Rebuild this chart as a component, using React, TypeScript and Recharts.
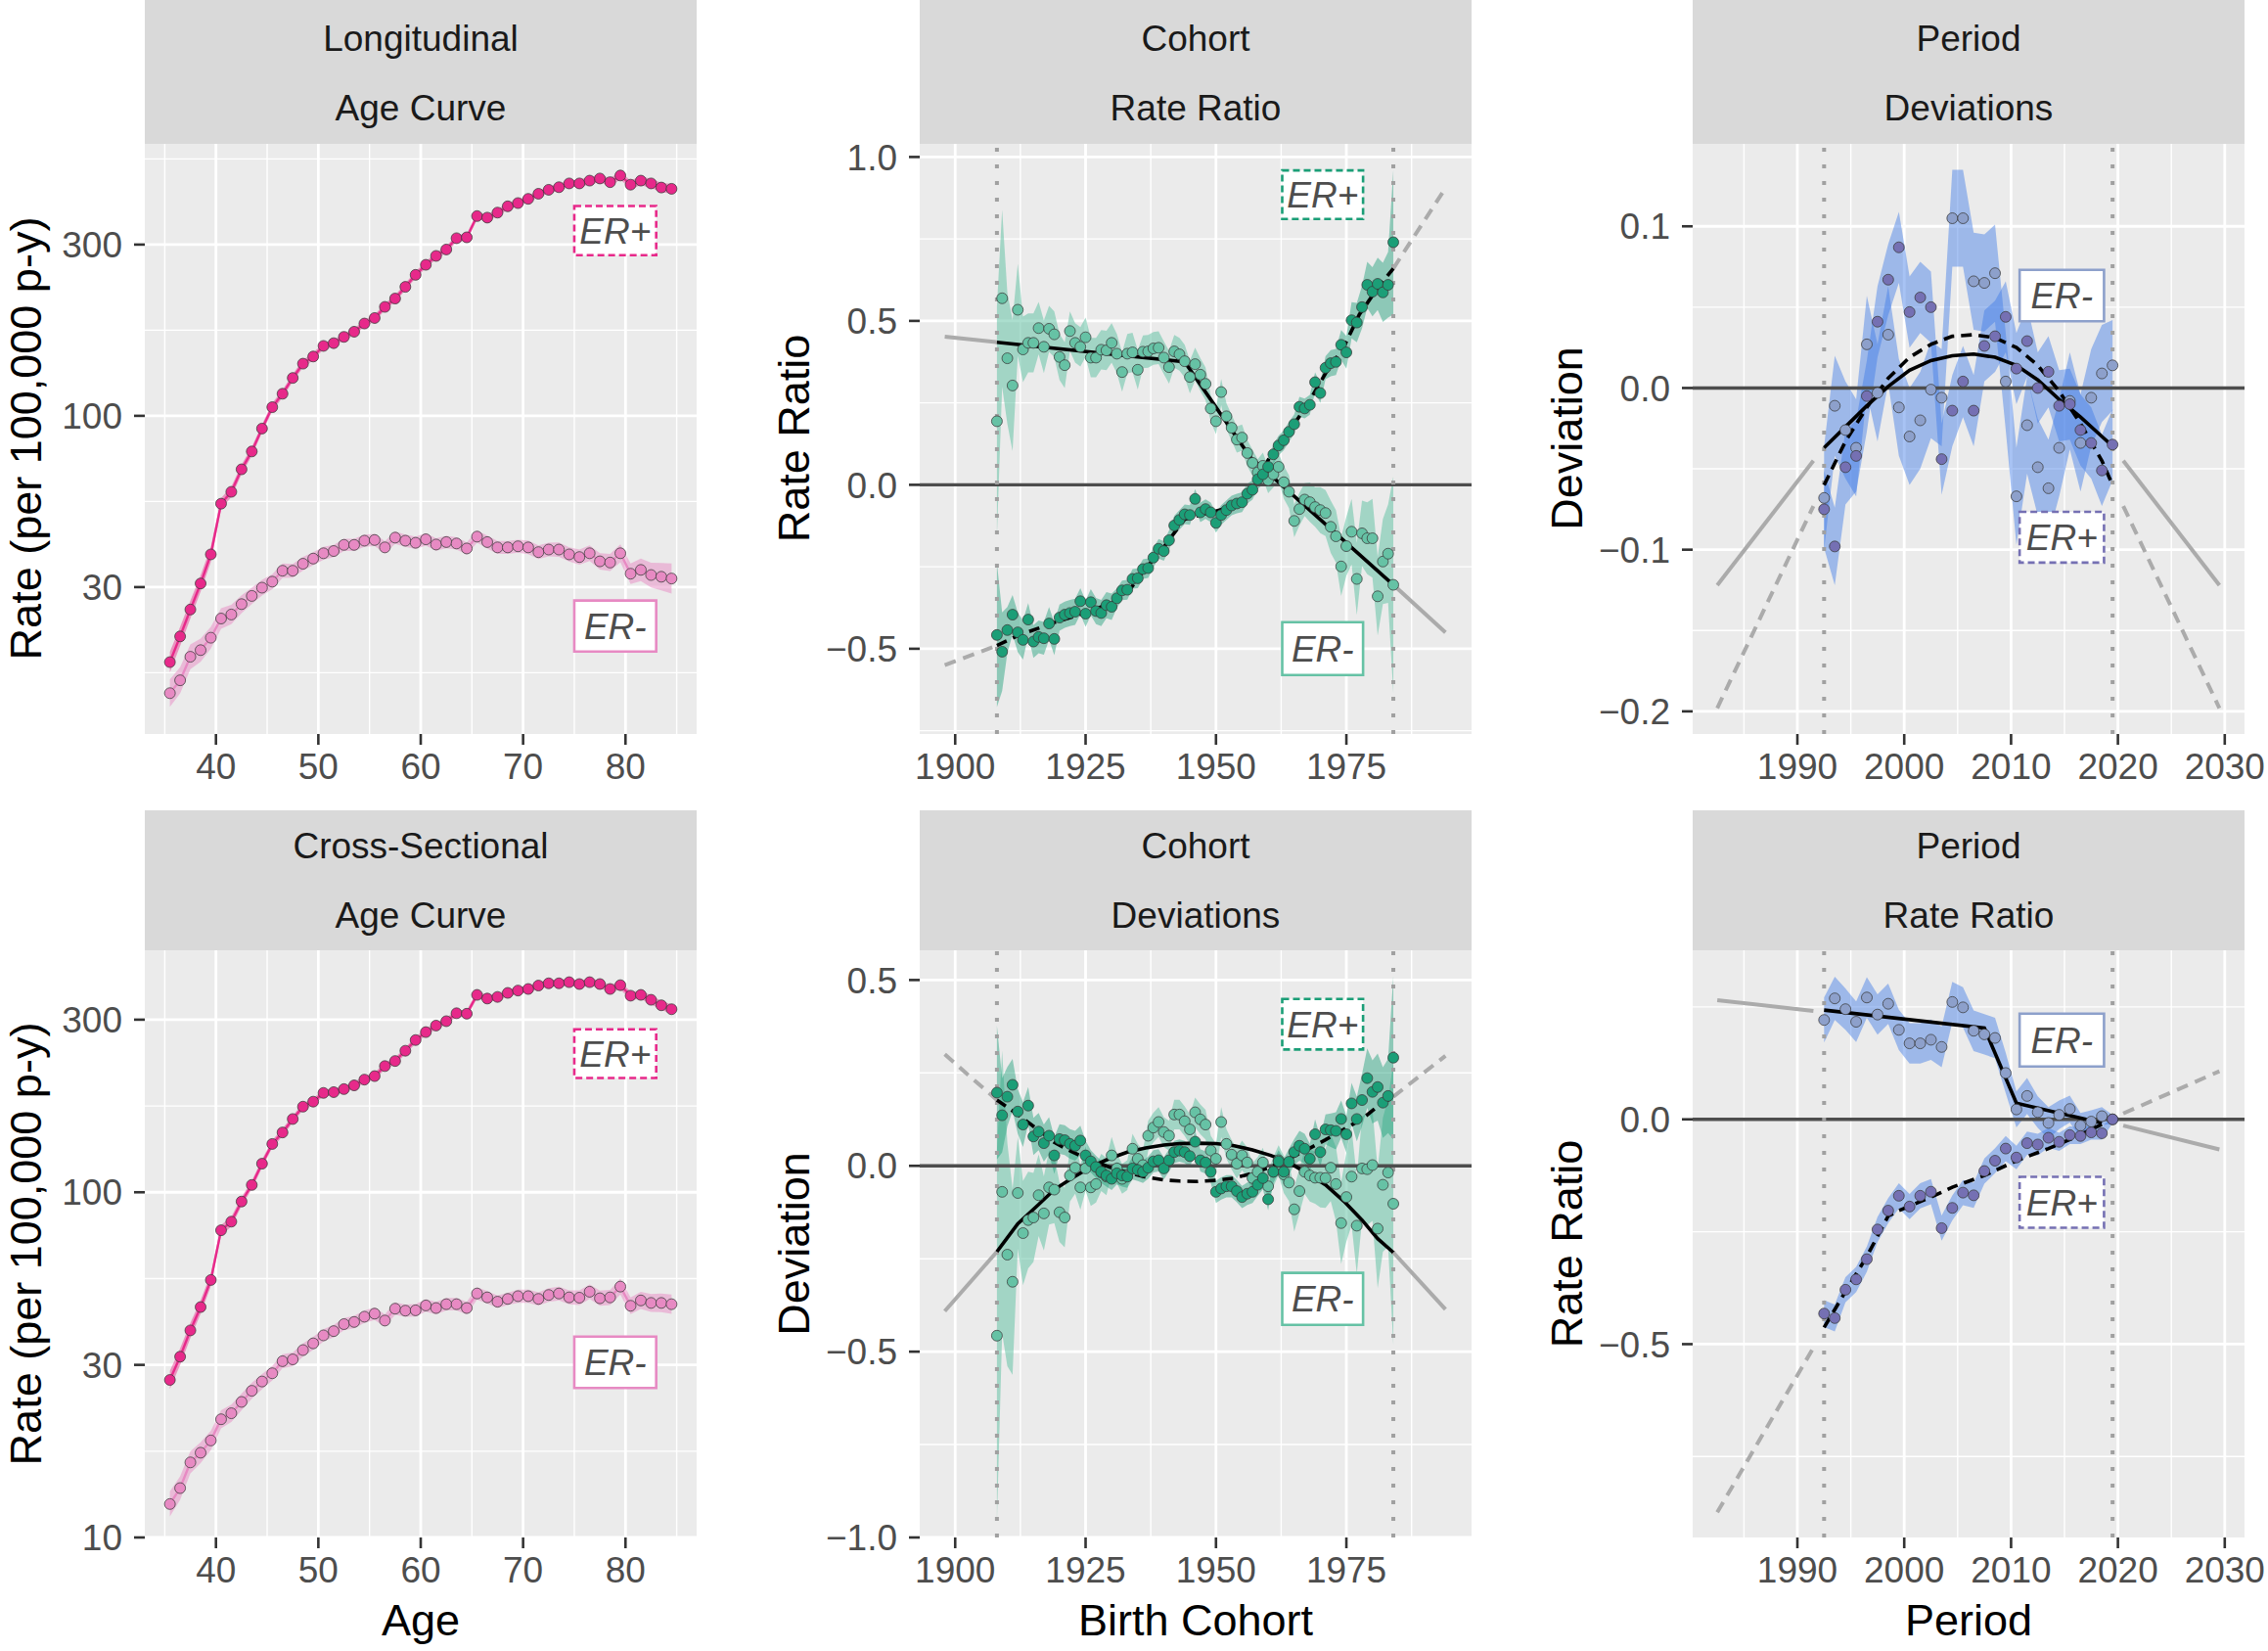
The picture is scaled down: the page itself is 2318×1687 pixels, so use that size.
import React from 'react';
import {
  ComposedChart,
  Area,
  Line,
  XAxis,
  YAxis,
  CartesianGrid,
  ReferenceLine,
  ReferenceArea,
} from 'recharts';

// ---------- data ----------

const ages = [
  35.5, 36.5, 37.5, 38.5, 39.5, 40.5, 41.5, 42.5, 43.5, 44.5,
  45.5, 46.5, 47.5, 48.5, 49.5, 50.5, 51.5, 52.5, 53.5, 54.5,
  55.5, 56.5, 57.5, 58.5, 59.5, 60.5, 61.5, 62.5, 63.5, 64.5,
  65.5, 66.5, 67.5, 68.5, 69.5, 70.5, 71.5, 72.5, 73.5, 74.5,
  75.5, 76.5, 77.5, 78.5, 79.5, 80.5, 81.5, 82.5, 83.5, 84.5,
];

// longitudinal age curve, rate per 100,000 p-y
const longPos = [
  19.1, 22.7, 27.2, 32.4, 39.4, 55.4, 60.0, 69.8, 78.7, 91.8,
  106, 116, 129, 142, 149, 160, 163, 170, 176, 186,
  193, 208, 220, 238, 258, 276, 293, 306, 330, 332,
  383, 379, 392, 409, 418, 430, 445, 457, 465, 477,
  477, 486, 493, 481, 503, 473, 486, 477, 464, 460,
];
const longNeg = [
  15.5, 16.9, 19.8, 20.7, 22.5, 25.6, 26.3, 28.2, 29.8, 31.5,
  32.8, 35.3, 35.3, 37.0, 38.3, 39.7, 40.3, 42.0, 42.0, 43.2,
  43.4, 41.3, 44.1, 43.2, 42.6, 43.6, 42.1, 42.8, 42.4, 41.0,
  44.4, 42.8, 41.3, 41.3, 41.6, 41.3, 40.0, 40.7, 40.7, 39.4,
  38.7, 39.7, 37.6, 37.3, 39.7, 34.6, 35.5, 34.3, 33.9, 33.5,
];
// ribbon half widths (log10 units)
const longPosHw = [
  0.030, 0.028, 0.026, 0.024, 0.022, 0.016, 0.015, 0.014, 0.013, 0.012,
  0.012, 0.011, 0.011, 0.011, 0.011, 0.010, 0.010, 0.010, 0.010, 0.010,
  0.010, 0.010, 0.010, 0.010, 0.010, 0.010, 0.010, 0.010, 0.010, 0.010,
  0.010, 0.010, 0.010, 0.010, 0.010, 0.010, 0.010, 0.010, 0.010, 0.010,
  0.011, 0.011, 0.011, 0.012, 0.012, 0.012, 0.013, 0.013, 0.014, 0.014,
];
const longNegHw = [
  0.040, 0.038, 0.036, 0.034, 0.032, 0.030, 0.028, 0.026, 0.024, 0.023,
  0.022, 0.021, 0.020, 0.020, 0.019, 0.019, 0.018, 0.018, 0.018, 0.018,
  0.018, 0.018, 0.018, 0.018, 0.018, 0.018, 0.018, 0.018, 0.018, 0.018,
  0.018, 0.019, 0.019, 0.019, 0.019, 0.020, 0.020, 0.020, 0.021, 0.021,
  0.022, 0.023, 0.024, 0.025, 0.026, 0.030, 0.033, 0.036, 0.040, 0.044,
];

// cross-sectional age curve
const crossPos = [
  28.6, 33.4, 39.8, 46.5, 55.7, 77.6, 82.2, 94.0, 105, 121,
  138, 149, 163, 177, 183, 194, 195, 199, 204, 212,
  217, 232, 240, 257, 276, 291, 304, 313, 330, 329,
  373, 364, 368, 378, 384, 388, 397, 403, 403, 406,
  401, 406, 401, 388, 398, 371, 373, 361, 348, 339,
];
const crossNeg = [
  12.5, 13.9, 16.5, 17.6, 19.1, 22.0, 22.9, 24.7, 26.6, 28.3,
  29.9, 32.4, 32.8, 34.9, 36.5, 38.5, 39.6, 41.5, 42.1, 43.6,
  44.5, 42.5, 46.0, 45.4, 45.5, 47.0, 46.2, 47.4, 47.4, 46.2,
  50.9, 49.6, 48.2, 49.1, 50.0, 50.0, 49.1, 50.4, 50.9, 49.6,
  49.5, 51.5, 49.3, 49.6, 53.3, 46.9, 48.6, 47.8, 47.8, 47.4,
];
const crossPosHw = [
  0.026, 0.024, 0.022, 0.020, 0.018, 0.015, 0.014, 0.013, 0.012, 0.012,
  0.011, 0.011, 0.010, 0.010, 0.010, 0.010, 0.010, 0.010, 0.010, 0.010,
  0.010, 0.010, 0.010, 0.010, 0.010, 0.010, 0.010, 0.010, 0.010, 0.010,
  0.010, 0.010, 0.010, 0.010, 0.010, 0.010, 0.010, 0.010, 0.010, 0.010,
  0.010, 0.011, 0.011, 0.011, 0.012, 0.012, 0.012, 0.013, 0.013, 0.014,
];
const crossNegHw = [
  0.036, 0.034, 0.032, 0.030, 0.028, 0.026, 0.025, 0.024, 0.023, 0.022,
  0.021, 0.020, 0.020, 0.019, 0.019, 0.018, 0.018, 0.018, 0.018, 0.018,
  0.018, 0.018, 0.018, 0.018, 0.018, 0.018, 0.018, 0.018, 0.018, 0.018,
  0.018, 0.018, 0.018, 0.018, 0.019, 0.019, 0.019, 0.020, 0.020, 0.020,
  0.021, 0.021, 0.022, 0.022, 0.023, 0.024, 0.025, 0.026, 0.027, 0.028,
];

const cohorts = [
  1908, 1909, 1910, 1911, 1912, 1913, 1914, 1915, 1916, 1917,
  1918, 1919, 1920, 1921, 1922, 1923, 1924, 1925, 1926, 1927,
  1928, 1929, 1930, 1931, 1932, 1933, 1934, 1935, 1936, 1937,
  1938, 1939, 1940, 1941, 1942, 1943, 1944, 1945, 1946, 1947,
  1948, 1949, 1950, 1951, 1952, 1953, 1954, 1955, 1956, 1957,
  1958, 1959, 1960, 1961, 1962, 1963, 1964, 1965, 1966, 1967,
  1968, 1969, 1970, 1971, 1972, 1973, 1974, 1975, 1976, 1977,
  1978, 1979, 1980, 1981, 1982, 1983, 1984,
];

// cohort rate ratio (log scale values)
const cohRRNeg = [
  0.194, 0.569, 0.386, 0.303, 0.534, 0.413, 0.433, 0.433, 0.478, 0.421,
  0.476, 0.459, 0.390, 0.365, 0.469, 0.433, 0.421, 0.450, 0.388, 0.388,
  0.412, 0.410, 0.433, 0.400, 0.344, 0.400, 0.404, 0.351, 0.406, 0.407,
  0.416, 0.418, 0.388, 0.359, 0.407, 0.398, 0.377, 0.329, 0.368, 0.336,
  0.308, 0.233, 0.194, 0.283, 0.209, 0.174, 0.138, 0.144, 0.097, 0.067,
  0.038, 0.058, 0.014, 0.032, 0.055, 0.008, -0.021, -0.110, -0.074, -0.045,
  -0.053, -0.068, -0.077, -0.086, -0.128, -0.157, -0.249, -0.187, -0.143, -0.287,
  -0.148, -0.163, -0.163, -0.340, -0.234, -0.210, -0.305,
];
const cohRRPos = [
  -0.458, -0.509, -0.443, -0.396, -0.450, -0.473, -0.411, -0.478, -0.464, -0.468,
  -0.423, -0.470, -0.405, -0.396, -0.391, -0.387, -0.355, -0.393, -0.358, -0.385,
  -0.391, -0.367, -0.372, -0.346, -0.322, -0.320, -0.287, -0.285, -0.257, -0.254,
  -0.222, -0.195, -0.202, -0.169, -0.124, -0.107, -0.090, -0.092, -0.043, -0.084,
  -0.074, -0.084, -0.116, -0.092, -0.077, -0.063, -0.057, -0.053, -0.027, -0.015,
  0.017, 0.032, 0.055, 0.093, 0.120, 0.136, 0.162, 0.185, 0.238, 0.233,
  0.244, 0.313, 0.280, 0.357, 0.371, 0.375, 0.427, 0.404, 0.502, 0.495,
  0.542, 0.610, 0.589, 0.613, 0.587, 0.610, 0.740,
];
const cohRRNegHw = [
  0.35, 0.27, 0.20, 0.20, 0.14, 0.10, 0.09, 0.09, 0.08, 0.08,
  0.07, 0.07, 0.07, 0.07, 0.06, 0.06, 0.06, 0.06, 0.06, 0.06,
  0.06, 0.06, 0.06, 0.06, 0.06, 0.06, 0.06, 0.06, 0.05, 0.05,
  0.05, 0.05, 0.05, 0.05, 0.05, 0.05, 0.05, 0.05, 0.05, 0.05,
  0.05, 0.04, 0.04, 0.04, 0.04, 0.04, 0.04, 0.04, 0.04, 0.04,
  0.04, 0.04, 0.04, 0.04, 0.04, 0.05, 0.05, 0.05, 0.05, 0.05,
  0.06, 0.06, 0.07, 0.07, 0.08, 0.08, 0.09, 0.09, 0.10, 0.11,
  0.10, 0.11, 0.12, 0.12, 0.13, 0.15, 0.33,
];
const cohRRPosHw = [
  0.22, 0.12, 0.07, 0.06, 0.06, 0.06, 0.05, 0.05, 0.05, 0.05,
  0.05, 0.05, 0.04, 0.04, 0.04, 0.04, 0.04, 0.04, 0.04, 0.04,
  0.04, 0.04, 0.04, 0.03, 0.03, 0.03, 0.03, 0.03, 0.03, 0.03,
  0.03, 0.03, 0.03, 0.03, 0.03, 0.03, 0.03, 0.03, 0.03, 0.03,
  0.03, 0.03, 0.03, 0.03, 0.03, 0.03, 0.03, 0.03, 0.03, 0.03,
  0.03, 0.03, 0.03, 0.03, 0.03, 0.03, 0.03, 0.03, 0.03, 0.03,
  0.03, 0.03, 0.03, 0.035, 0.04, 0.04, 0.045, 0.05, 0.055, 0.06,
  0.065, 0.07, 0.075, 0.08, 0.09, 0.10, 0.22,
];
// fitted cohort rate ratio curves
const cohRRNegFitX = [1908, 1944, 1957, 1959, 1961, 1984];
const cohRRNegFitY = [0.435, 0.375, 0.075, 0.055, 0.022, -0.305];
const cohRRPosFitX = [
  1908, 1912, 1919, 1925, 1930, 1933, 1936, 1940, 1943, 1944, 1947, 1950,
  1954, 1956, 1958.5, 1960.5, 1964, 1967.5, 1971, 1974.5, 1977.5, 1981, 1984,
];
const cohRRPosFitY = [
  -0.49, -0.46, -0.42, -0.39, -0.36, -0.33, -0.265, -0.19, -0.125, -0.105, -0.092, -0.08,
  -0.062, -0.027, 0.032, 0.09, 0.162, 0.244, 0.34, 0.42, 0.52, 0.6, 0.66,
];
const cohExtLeftX = [1898, 1908];
const cohExtRightX = [1984, 1994];
const cohRRNegExtL = [0.452, 0.435];
const cohRRNegExtR = [-0.305, -0.45];
const cohRRPosExtL = [-0.55, -0.49];
const cohRRPosExtR = [0.66, 0.905];

// cohort deviations
const cohDevNeg = [
  -0.457, -0.070, -0.239, -0.312, -0.073, -0.181, -0.146, -0.139, -0.079, -0.128,
  -0.058, -0.064, -0.125, -0.139, -0.026, -0.005, -0.058, -0.007, -0.058, -0.049,
  -0.018, -0.029, 0.028, -0.007, -0.035, -0.025, 0.046, 0.019, 0.002, 0.081,
  0.103, 0.118, 0.091, 0.081, 0.138, 0.138, 0.120, 0.098, 0.144, 0.125,
  0.111, 0.041, 0.019, 0.118, 0.059, 0.030, 0.006, 0.028, 0.009, -0.033,
  -0.016, 0.009, -0.055, -0.016, 0.015, -0.023, -0.045, -0.117, -0.068, -0.016,
  -0.026, -0.032, -0.032, -0.033, -0.005, -0.049, -0.154, -0.084, -0.029, -0.161,
  -0.007, -0.009, 0.002, -0.169, -0.051, -0.018, -0.102,
];
const cohDevPos = [
  0.197, 0.136, 0.186, 0.218, 0.146, 0.111, 0.162, 0.079, 0.092, 0.061,
  0.081, 0.028, 0.072, 0.069, 0.059, 0.054, 0.068, 0.028, 0.012, -0.003,
  -0.016, -0.026, -0.035, -0.020, -0.026, -0.029, -0.007, -0.011, -0.016, -0.005,
  0.012, 0.015, -0.007, 0.015, 0.037, 0.041, 0.037, 0.026, 0.065, 0.015,
  0.009, -0.016, -0.070, -0.061, -0.055, -0.055, -0.068, -0.084, -0.075, -0.070,
  -0.051, -0.033, -0.090, -0.016, 0.012, -0.016, 0.011, 0.037, 0.054, 0.046,
  0.019, 0.085, 0.037, 0.098, 0.096, 0.094, 0.126, 0.085, 0.168, 0.126,
  0.177, 0.236, 0.199, 0.212, 0.170, 0.188, 0.291,
];
const cohDevNegHw = [
  0.50, 0.38, 0.30, 0.25, 0.15, 0.14, 0.13, 0.12, 0.11, 0.10,
  0.10, 0.09, 0.08, 0.08, 0.07, 0.07, 0.06, 0.06, 0.05, 0.05,
  0.05, 0.05, 0.05, 0.04, 0.04, 0.04, 0.04, 0.04, 0.04, 0.04,
  0.04, 0.04, 0.04, 0.04, 0.04, 0.04, 0.04, 0.04, 0.04, 0.04,
  0.04, 0.04, 0.04, 0.04, 0.04, 0.04, 0.04, 0.04, 0.04, 0.04,
  0.04, 0.04, 0.04, 0.04, 0.04, 0.05, 0.05, 0.06, 0.06, 0.06,
  0.07, 0.07, 0.08, 0.08, 0.09, 0.10, 0.11, 0.12, 0.13, 0.13,
  0.14, 0.15, 0.15, 0.16, 0.18, 0.20, 0.38,
];
const cohDevPosHw = [
  0.18, 0.10, 0.08, 0.07, 0.06, 0.06, 0.05, 0.05, 0.05, 0.05,
  0.05, 0.05, 0.04, 0.04, 0.04, 0.04, 0.04, 0.04, 0.03, 0.03,
  0.03, 0.03, 0.03, 0.03, 0.03, 0.03, 0.03, 0.03, 0.03, 0.03,
  0.03, 0.03, 0.03, 0.03, 0.03, 0.03, 0.03, 0.03, 0.03, 0.03,
  0.03, 0.03, 0.03, 0.03, 0.03, 0.03, 0.03, 0.03, 0.03, 0.03,
  0.03, 0.03, 0.03, 0.03, 0.03, 0.035, 0.035, 0.035, 0.04, 0.04,
  0.04, 0.04, 0.04, 0.04, 0.045, 0.05, 0.05, 0.05, 0.055, 0.06,
  0.07, 0.08, 0.085, 0.09, 0.095, 0.10, 0.22,
];
const cohDevFitX = [
  1908, 1912, 1916, 1919, 1922.5, 1926, 1929.5, 1933, 1936.5, 1940, 1943, 1946.5,
  1950, 1953.5, 1957, 1960.5, 1964, 1967.5, 1971, 1974.5, 1978, 1981, 1984,
];
const cohDevNegFitY = [
  -0.231, -0.156, -0.104, -0.064, -0.032, -0.003, 0.019, 0.037, 0.048, 0.056, 0.060, 0.061,
  0.060, 0.054, 0.043, 0.028, 0.009, -0.020, -0.051, -0.095, -0.146, -0.196, -0.233,
];
const cohDevPosFitY = [
  0.177, 0.138, 0.096, 0.063, 0.037, 0.015, -0.003, -0.018, -0.030, -0.038, -0.041, -0.042,
  -0.039, -0.033, -0.020, -0.003, 0.019, 0.044, 0.070, 0.098, 0.126, 0.160, 0.186,
];
const cohDevNegExtL = [-0.391, -0.231];
const cohDevNegExtR = [-0.233, -0.386];
const cohDevPosExtL = [0.300, 0.177];
const cohDevPosExtR = [0.186, 0.296];

const periods = [
  1992.5, 1993.5, 1994.5, 1995.5, 1996.5, 1997.5, 1998.5, 1999.5, 2000.5, 2001.5,
  2002.5, 2003.5, 2004.5, 2005.5, 2006.5, 2007.5, 2008.5, 2009.5, 2010.5, 2011.5,
  2012.5, 2013.5, 2014.5, 2015.5, 2016.5, 2017.5, 2018.5, 2019.5,
];

// period deviations
const perDevPos = [
  -0.075, -0.098, -0.049, -0.042, -0.005, 0.041, 0.067, 0.087, 0.047, 0.056,
  0.050, -0.044, -0.014, 0.004, -0.014, 0.026, 0.032, 0.044, 0.012, 0.029,
  0.000, 0.010, -0.011, -0.010, -0.026, -0.034, -0.051, -0.035,
];
const perDevNeg = [
  -0.068, -0.011, -0.026, -0.037, 0.027, -0.003, 0.033, -0.012, -0.030, -0.020,
  -0.001, -0.006, 0.105, 0.105, 0.066, 0.065, 0.071, 0.004, -0.067, -0.023,
  -0.049, -0.062, -0.037, -0.008, -0.034, -0.006, 0.009, 0.014,
];
const perDevPosHw = [
  0.024, 0.024, 0.023, 0.022, 0.022, 0.022, 0.022, 0.022, 0.022, 0.022,
  0.022, 0.022, 0.022, 0.022, 0.022, 0.022, 0.022, 0.022, 0.022, 0.022,
  0.022, 0.022, 0.022, 0.022, 0.022, 0.022, 0.022, 0.022,
];
const perDevNegHw = [
  0.032, 0.031, 0.030, 0.030, 0.030, 0.030, 0.030, 0.030, 0.030, 0.030,
  0.030, 0.030, 0.030, 0.030, 0.030, 0.030, 0.030, 0.030, 0.030, 0.030,
  0.030, 0.030, 0.030, 0.030, 0.030, 0.030, 0.030, 0.028,
];
const perDevFitX = [
  1992.5, 1994.5, 1996.5, 1998.5, 2000.5, 2002.5, 2004.5, 2006.5,
  2008.5, 2010.5, 2012.5, 2014.5, 2016.5, 2018.5, 2019.5,
];
const perDevNegFitY = [
  -0.037, -0.024, -0.011, 0.001, 0.011, 0.017, 0.020, 0.021,
  0.019, 0.014, 0.005, -0.007, -0.018, -0.030, -0.036,
];
const perDevPosFitY = [
  -0.060, -0.033, -0.012, 0.006, 0.019, 0.027, 0.032, 0.033,
  0.031, 0.025, 0.014, -0.002, -0.022, -0.045, -0.060,
];
const perExtLeftX = [1982.5, 1991.5];
const perExtRightX = [2020.5, 2029.5];
const perDevNegExtL = [-0.122, -0.045];
const perDevNegExtR = [-0.045, -0.122];
const perDevPosExtL = [-0.198, -0.073];
const perDevPosExtR = [-0.073, -0.198];

// period rate ratio
const perRRNeg = [
  0.221, 0.269, 0.245, 0.217, 0.271, 0.233, 0.257, 0.199, 0.169, 0.169,
  0.177, 0.161, 0.261, 0.249, 0.197, 0.189, 0.181, 0.103, 0.022, 0.052,
  0.016, -0.008, 0.010, 0.023, -0.014, -0.005, 0.007, 0.000,
];
const perRRPos = [
  -0.432, -0.442, -0.379, -0.356, -0.311, -0.245, -0.203, -0.170, -0.194, -0.170,
  -0.161, -0.242, -0.197, -0.163, -0.169, -0.115, -0.092, -0.065, -0.085, -0.053,
  -0.056, -0.041, -0.050, -0.035, -0.037, -0.029, -0.031, 0.000,
];
const perRRNegHw = [
  0.050, 0.048, 0.046, 0.045, 0.045, 0.045, 0.045, 0.045, 0.045, 0.045,
  0.045, 0.045, 0.045, 0.045, 0.045, 0.045, 0.045, 0.045, 0.040, 0.040,
  0.035, 0.035, 0.032, 0.030, 0.028, 0.025, 0.020, 0.010,
];
const perRRPosHw = [
  0.030, 0.030, 0.028, 0.028, 0.028, 0.028, 0.028, 0.028, 0.028, 0.028,
  0.028, 0.028, 0.028, 0.028, 0.028, 0.028, 0.028, 0.028, 0.026, 0.026,
  0.024, 0.022, 0.020, 0.020, 0.018, 0.016, 0.014, 0.008,
];
const perRRNegFitX = [1992.5, 2007.5, 2010.5, 2018.5];
const perRRNegFitY = [0.243, 0.203, 0.036, -0.008];
const perRRPosFitX = [1992.5, 1994.5, 1996.5, 1998.5, 1999.5, 2002.5, 2004.5, 2007.5, 2010.5, 2013.5, 2015.5, 2018.5];
const perRRPosFitY = [-0.463, -0.383, -0.305, -0.215, -0.203, -0.173, -0.151, -0.125, -0.092, -0.065, -0.045, -0.011];
const perRRNegExtL = [0.265, 0.241];
const perRRNegExtR = [-0.014, -0.067];
const perRRPosExtL = [-0.874, -0.508];
const perRRPosExtR = [0.013, 0.107];

// axis ticks
const ageTicks = [40, 50, 60, 70, 80];
const ageMinor = [35, 45, 55, 65, 75, 85];
const cohortTicks = [1900, 1925, 1950, 1975];
const cohortMinor = [1912.5, 1937.5, 1962.5, 1987.5];
const periodTicks = [1990, 2000, 2010, 2020, 2030];
const periodMinor = [1985, 1995, 2005, 2015, 2025];
const rateTicksTop = [31.62, 100, 316.2];
const rateMinorTop = [17.78, 56.23, 177.8, 562.3];
const rateTicksBottom = [10, 31.62, 100, 316.2];
const rateMinorBottom = [17.78, 56.23, 177.8];

// ---------- layout & style ----------

const FONT = '"Liberation Sans", Arial, Helvetica, sans-serif';
const PLOT_W = 564;
const COL_X = [148, 940, 1730];
const ROW_TOP = [147, 971];
const ROW_H = [603, 600];
const Y_W = 130;
const X_H = 60;
const M_T = 20;
const R_PAD = 24;

const PINK_DARK = '#E7298A';
const PINK_LIGHT = '#E78AC3';
const GREEN_DARK = '#1B9E77';
const GREEN_LIGHT = '#66C2A5';
const PURPLE_DARK = '#7570B3';
const PURPLE_LIGHT = '#8DA0CB';
const RIBBON_BLUE = '#3D7BE6';
const EXT_GREY = '#ABABAB';

const logLabel = (v: number) => {
  const p = Math.pow(10, Math.floor(Math.log10(v) + 1e-9));
  return String(Math.round(v / p) * p);
};
const linLabel = (v: number) => (v < -1e-9 ? '\u2212' : '') + Math.abs(v).toFixed(1);

const pairs = (xs: number[], ys: number[]) => xs.map((x, i) => ({ x, y: ys[i] }));

const band = (id: string, xs: number[], ys: number[], hw: number[], fill: string, op: number, log = false) => (
  <Area
    key={id}
    data={xs.map((x, i) => ({
      x,
      band: log ? [ys[i] / Math.pow(10, hw[i]), ys[i] * Math.pow(10, hw[i])] : [ys[i] - hw[i], ys[i] + hw[i]],
    }))}
    dataKey="band"
    type="linear"
    stroke="none"
    fill={fill}
    fillOpacity={op}
    dot={false}
    activeDot={false}
    isAnimationActive={false}
  />
);

const dots = (id: string, xs: number[], ys: number[], fill: string, line?: string) => (
  <Line
    key={id}
    data={pairs(xs, ys)}
    dataKey="y"
    type="linear"
    stroke={line ?? 'none'}
    strokeWidth={2.4}
    dot={{ r: 5.5, fill, fillOpacity: 1, stroke: '#3A3A3A', strokeWidth: 1, strokeOpacity: 0.75 }}
    activeDot={false}
    isAnimationActive={false}
  />
);

const curve = (id: string, xs: number[], ys: number[], stroke: string, width: number, dash?: string) => (
  <Line
    key={id}
    data={pairs(xs, ys)}
    dataKey="y"
    type="linear"
    stroke={stroke}
    strokeWidth={width}
    strokeDasharray={dash}
    dot={false}
    activeDot={false}
    isAnimationActive={false}
  />
);

const box = (id: string, xr: number[], yr: number[], text: string, color: string, dashed: boolean) => (
  <ReferenceArea
    key={id}
    x1={xr[0]}
    x2={xr[1]}
    y1={yr[0]}
    y2={yr[1]}
    fill="#FFFFFF"
    fillOpacity={1}
    stroke={color}
    strokeWidth={2.6}
    strokeDasharray={dashed ? '7 4' : undefined}
    ifOverflow="visible"
    label={{ value: text, position: 'center', fill: '#4D4D4D', fontSize: 37, fontStyle: 'italic', fontFamily: FONT }}
  />
);

const zeroLine = <ReferenceLine key="zero" y={0} stroke="#4D4D4D" strokeWidth={3.4} />;
const vDotted = (id: string, x: number) => (
  <ReferenceLine key={id} x={x} stroke="#A0A0A0" strokeWidth={4} strokeDasharray="4 13" />
);

type PanelProps = {
  col: number;
  row: number;
  xDomain: [number, number];
  xTicks: number[];
  xMinor: number[];
  yDomain: [number, number];
  yTicks: number[];
  yMinor: number[];
  log?: boolean;
  children: React.ReactNode;
};

function Panel({ col, row, xDomain, xTicks, xMinor, yDomain, yTicks, yMinor, log, children }: PanelProps) {
  const h = ROW_H[row];
  const tickText = { fill: '#4D4D4D', fontSize: 37, fontFamily: FONT };
  const tickLine = { stroke: '#333333', strokeWidth: 2.6 };
  return (
    <div style={{ position: 'absolute', left: COL_X[col] - Y_W, top: ROW_TOP[row] - M_T }}>
      <ComposedChart
        width={Y_W + PLOT_W + R_PAD}
        height={M_T + h + X_H}
        margin={{ top: M_T, right: R_PAD, bottom: 0, left: 0 }}
      >
        <CartesianGrid
          fill="#EBEBEB"
          fillOpacity={1}
          stroke="#FFFFFF"
          strokeWidth={1.4}
          horizontalValues={yMinor}
          verticalValues={xMinor}
        />
        <CartesianGrid stroke="#FFFFFF" strokeWidth={2.8} horizontalValues={yTicks} verticalValues={xTicks} />
        <XAxis
          type="number"
          dataKey="x"
          domain={xDomain}
          ticks={xTicks}
          interval={0}
          allowDataOverflow
          height={X_H}
          axisLine={false}
          stroke="#333333"
          tickSize={11}
          tickMargin={9}
          tickLine={tickLine}
          tick={tickText}
        />
        <YAxis
          type="number"
          scale={log ? 'log' : 'linear'}
          domain={yDomain}
          ticks={yTicks}
          interval={0}
          allowDataOverflow
          width={Y_W}
          axisLine={false}
          stroke="#333333"
          tickSize={11}
          tickMargin={12}
          tickLine={tickLine}
          tick={tickText}
          tickFormatter={log ? logLabel : linLabel}
        />
        {children}
      </ComposedChart>
    </div>
  );
}

function Strip({ col, top, height, lines, offsets }: { col: number; top: number; height: number; lines: string[]; offsets: number[] }) {
  return (
    <div style={{ position: 'absolute', left: COL_X[col], top, width: PLOT_W, height, background: '#D9D9D9' }}>
      {lines.map((t, i) => (
        <div
          key={t}
          style={{
            position: 'absolute',
            left: 0,
            width: PLOT_W,
            top: offsets[i] - 25,
            height: 50,
            lineHeight: '50px',
            textAlign: 'center',
            fontSize: 37,
            color: '#1A1A1A',
          }}
        >
          {t}
        </div>
      ))}
    </div>
  );
}

function Title({ x, y, text, rotate }: { x: number; y: number; text: string; rotate?: boolean }) {
  return (
    <div
      style={{
        position: 'absolute',
        left: x,
        top: y,
        transform: `translate(-50%, -50%)${rotate ? ' rotate(-90deg)' : ''}`,
        fontSize: 45,
        lineHeight: 1,
        color: '#000000',
        whiteSpace: 'nowrap',
      }}
    >
      {text}
    </div>
  );
}

const AGE_DOMAIN: [number, number] = [33.05, 86.95];
const COHORT_DOMAIN: [number, number] = [1893.2, 1999.0];
const PERIOD_DOMAIN: [number, number] = [1980.2, 2031.85];

export default function App() {
  return (
    <div
      style={{
        position: 'absolute',
        left: 0,
        top: 0,
        width: 2318,
        height: 1687,
        background: '#FFFFFF',
        fontFamily: FONT,
        overflow: 'hidden',
      }}
    >
      <Strip col={0} top={0} height={147} lines={['Longitudinal', 'Age Curve']} offsets={[40, 111]} />
      <Strip col={1} top={0} height={147} lines={['Cohort', 'Rate Ratio']} offsets={[40, 111]} />
      <Strip col={2} top={0} height={147} lines={['Period', 'Deviations']} offsets={[40, 111]} />
      <Strip col={0} top={828} height={143} lines={['Cross-Sectional', 'Age Curve']} offsets={[37, 108]} />
      <Strip col={1} top={828} height={143} lines={['Cohort', 'Deviations']} offsets={[37, 108]} />
      <Strip col={2} top={828} height={143} lines={['Period', 'Rate Ratio']} offsets={[37, 108]} />

      {/* Longitudinal age curve */}
      <Panel
        col={0}
        row={0}
        log
        xDomain={AGE_DOMAIN}
        xTicks={ageTicks}
        xMinor={ageMinor}
        yDomain={[11.78, 622.3]}
        yTicks={rateTicksTop}
        yMinor={rateMinorTop}
      >
        {[
          band('bn', ages, longNeg, longNegHw, PINK_LIGHT, 0.5, true),
          band('bp', ages, longPos, longPosHw, PINK_DARK, 0.45, true),
          dots('pn', ages, longNeg, PINK_LIGHT, PINK_LIGHT),
          dots('pp', ages, longPos, PINK_DARK, PINK_DARK),
          box('lp', [75, 83], [294.4, 409.8], 'ER+', PINK_DARK, true),
          box('ln', [75, 83], [20.5, 28.9], 'ER-', PINK_LIGHT, false),
        ]}
      </Panel>

      {/* Cohort rate ratio */}
      <Panel
        col={1}
        row={0}
        xDomain={COHORT_DOMAIN}
        xTicks={cohortTicks}
        xMinor={cohortMinor}
        yDomain={[-0.76, 1.04]}
        yTicks={[-0.5, 0, 0.5, 1]}
        yMinor={[-0.75, -0.25, 0.25, 0.75]}
      >
        {[
          zeroLine,
          vDotted('v1', 1908),
          vDotted('v2', 1984),
          curve('e1', cohExtLeftX, cohRRNegExtL, EXT_GREY, 4),
          curve('e2', cohExtRightX, cohRRNegExtR, EXT_GREY, 4),
          curve('e3', cohExtLeftX, cohRRPosExtL, EXT_GREY, 4, '12 8'),
          curve('e4', cohExtRightX, cohRRPosExtR, EXT_GREY, 4, '12 8'),
          band('bn', cohorts, cohRRNeg, cohRRNegHw, GREEN_LIGHT, 0.55),
          band('bp', cohorts, cohRRPos, cohRRPosHw, GREEN_DARK, 0.45),
          curve('fn', cohRRNegFitX, cohRRNegFitY, '#000000', 3.6),
          curve('fp', cohRRPosFitX, cohRRPosFitY, '#000000', 3.6, '11 7'),
          dots('pn', cohorts, cohRRNeg, GREEN_LIGHT),
          dots('pp', cohorts, cohRRPos, GREEN_DARK),
          box('lp', [1962.7, 1978.2], [0.811, 0.959], 'ER+', GREEN_DARK, true),
          box('ln', [1962.7, 1978.2], [-0.58, -0.419], 'ER-', GREEN_LIGHT, false),
        ]}
      </Panel>

      {/* Period deviations */}
      <Panel
        col={2}
        row={0}
        xDomain={PERIOD_DOMAIN}
        xTicks={periodTicks}
        xMinor={periodMinor}
        yDomain={[-0.214, 0.151]}
        yTicks={[-0.2, -0.1, 0, 0.1]}
        yMinor={[-0.15, -0.05, 0.05]}
      >
        {[
          zeroLine,
          vDotted('v1', 1992.5),
          vDotted('v2', 2019.5),
          curve('e1', perExtLeftX, perDevNegExtL, EXT_GREY, 4),
          curve('e2', perExtRightX, perDevNegExtR, EXT_GREY, 4),
          curve('e3', perExtLeftX, perDevPosExtL, EXT_GREY, 4, '12 8'),
          curve('e4', perExtRightX, perDevPosExtR, EXT_GREY, 4, '12 8'),
          band('bn', periods, perDevNeg, perDevNegHw, RIBBON_BLUE, 0.45),
          band('bp', periods, perDevPos, perDevPosHw, RIBBON_BLUE, 0.45),
          curve('fn', perDevFitX, perDevNegFitY, '#000000', 3.6),
          curve('fp', perDevFitX, perDevPosFitY, '#000000', 3.6, '11 7'),
          dots('pn', periods, perDevNeg, PURPLE_LIGHT),
          dots('pp', periods, perDevPos, PURPLE_DARK),
          box('ln', [2010.8, 2018.7], [0.0413, 0.0731], 'ER-', PURPLE_LIGHT, false),
          box('lp', [2010.8, 2018.7], [-0.108, -0.0766], 'ER+', PURPLE_DARK, true),
        ]}
      </Panel>

      {/* Cross-sectional age curve */}
      <Panel
        col={0}
        row={1}
        log
        xDomain={AGE_DOMAIN}
        xTicks={ageTicks}
        xMinor={ageMinor}
        yDomain={[10, 502.3]}
        yTicks={rateTicksBottom}
        yMinor={rateMinorBottom}
      >
        {[
          band('bn', ages, crossNeg, crossNegHw, PINK_LIGHT, 0.5, true),
          band('bp', ages, crossPos, crossPosHw, PINK_DARK, 0.45, true),
          dots('pn', ages, crossNeg, PINK_LIGHT, PINK_LIGHT),
          dots('pp', ages, crossPos, PINK_DARK, PINK_DARK),
          box('lp', [75, 83], [214.3, 296.6], 'ER+', PINK_DARK, true),
          box('ln', [75, 83], [27.1, 38.2], 'ER-', PINK_LIGHT, false),
        ]}
      </Panel>

      {/* Cohort deviations */}
      <Panel
        col={1}
        row={1}
        xDomain={COHORT_DOMAIN}
        xTicks={cohortTicks}
        xMinor={cohortMinor}
        yDomain={[-1.0, 0.58]}
        yTicks={[-1, -0.5, 0, 0.5]}
        yMinor={[-0.75, -0.25, 0.25]}
      >
        {[
          zeroLine,
          vDotted('v1', 1908),
          vDotted('v2', 1984),
          curve('e1', cohExtLeftX, cohDevNegExtL, EXT_GREY, 4),
          curve('e2', cohExtRightX, cohDevNegExtR, EXT_GREY, 4),
          curve('e3', cohExtLeftX, cohDevPosExtL, EXT_GREY, 4, '12 8'),
          curve('e4', cohExtRightX, cohDevPosExtR, EXT_GREY, 4, '12 8'),
          band('bn', cohorts, cohDevNeg, cohDevNegHw, GREEN_LIGHT, 0.55),
          band('bp', cohorts, cohDevPos, cohDevPosHw, GREEN_DARK, 0.45),
          curve('fn', cohDevFitX, cohDevNegFitY, '#000000', 3.6),
          curve('fp', cohDevFitX, cohDevPosFitY, '#000000', 3.6, '11 7'),
          dots('pn', cohorts, cohDevNeg, GREEN_LIGHT),
          dots('pp', cohorts, cohDevPos, GREEN_DARK),
          box('lp', [1962.7, 1978.2], [0.313, 0.449], 'ER+', GREEN_DARK, true),
          box('ln', [1962.7, 1978.2], [-0.428, -0.288], 'ER-', GREEN_LIGHT, false),
        ]}
      </Panel>

      {/* Period rate ratio */}
      <Panel
        col={2}
        row={1}
        xDomain={PERIOD_DOMAIN}
        xTicks={periodTicks}
        xMinor={periodMinor}
        yDomain={[-0.93, 0.376]}
        yTicks={[-0.5, 0]}
        yMinor={[-0.75, -0.25, 0.25]}
      >
        {[
          zeroLine,
          vDotted('v1', 1992.5),
          vDotted('v2', 2019.5),
          curve('e1', perExtLeftX, perRRNegExtL, EXT_GREY, 4),
          curve('e2', perExtRightX, perRRNegExtR, EXT_GREY, 4),
          curve('e3', perExtLeftX, perRRPosExtL, EXT_GREY, 4, '12 8'),
          curve('e4', perExtRightX, perRRPosExtR, EXT_GREY, 4, '12 8'),
          band('bn', periods, perRRNeg, perRRNegHw, RIBBON_BLUE, 0.45),
          band('bp', periods, perRRPos, perRRPosHw, RIBBON_BLUE, 0.45),
          curve('fn', perRRNegFitX, perRRNegFitY, '#000000', 3.6),
          curve('fp', perRRPosFitX, perRRPosFitY, '#000000', 3.6, '11 7'),
          dots('pn', periods, perRRNeg, PURPLE_LIGHT),
          dots('pp', periods, perRRPos, PURPLE_DARK),
          box('ln', [2010.8, 2018.7], [0.1175, 0.235], 'ER-', PURPLE_LIGHT, false),
          box('lp', [2010.8, 2018.7], [-0.241, -0.128], 'ER+', PURPLE_DARK, true),
        ]}
      </Panel>

      <Title x={26} y={448} text="Rate (per 100,000 p-y)" rotate />
      <Title x={811} y={448} text="Rate Ratio" rotate />
      <Title x={1601} y={448} text="Deviation" rotate />
      <Title x={26} y={1271} text="Rate (per 100,000 p-y)" rotate />
      <Title x={811} y={1271} text="Deviation" rotate />
      <Title x={1601} y={1271} text="Rate Ratio" rotate />
      <Title x={430} y={1655} text="Age" />
      <Title x={1222} y={1655} text="Birth Cohort" />
      <Title x={2012} y={1655} text="Period" />
    </div>
  );
}
